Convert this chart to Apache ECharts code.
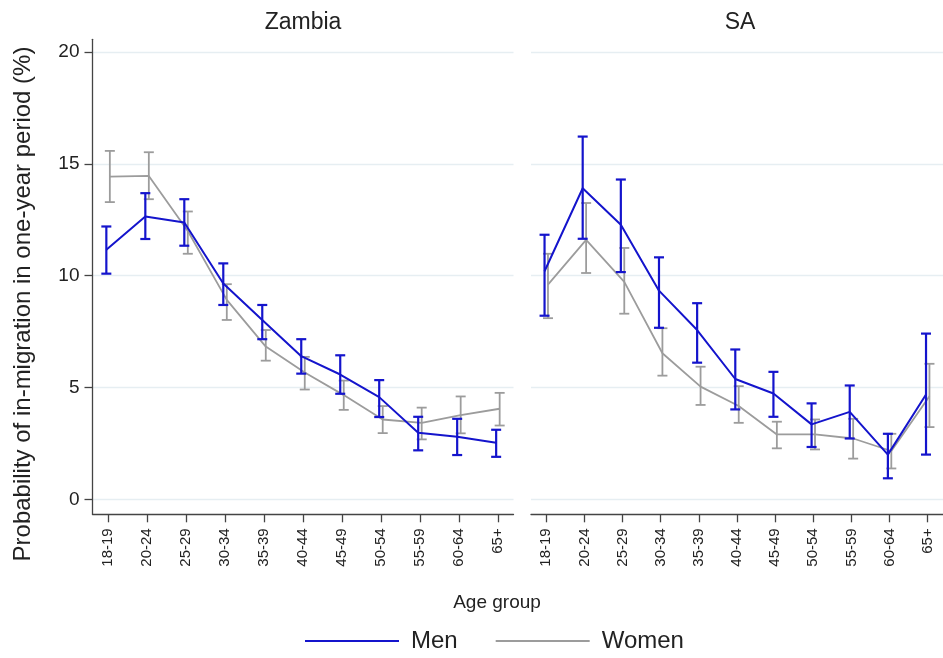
<!DOCTYPE html>
<html>
<head>
<meta charset="utf-8">
<script src="https://cdn.jsdelivr.net/npm/echarts@6/dist/echarts.min.js"></script>
<style>html,body{margin:0;padding:0;background:#fff}#c{width:943px;height:658px}</style>
</head>
<body>
<div id="c"></div>
<script>
const categories = ['18-19','20-24','25-29','30-34','35-39','40-44','45-49','50-54','55-59','60-64','65+'];
const yTicks = [0, 5, 10, 15, 20];

const zambiaMen      = [11.16, 12.65, 12.38, 9.65, 8.02, 6.40, 5.58, 4.57, 2.98, 2.80, 2.53];
const zambiaMenLow   = [10.09, 11.64, 11.34, 8.69, 7.16, 5.62, 4.72, 3.68, 2.19, 1.98, 1.90];
const zambiaMenHigh  = [12.20, 13.69, 13.42, 10.55, 8.69, 7.16, 6.44, 5.33, 3.69, 3.60, 3.11];

const zambiaWomen     = [14.43, 14.46, 12.00, 8.92, 6.83, 5.67, 4.66, 3.57, 3.42, 3.76, 4.05];
const zambiaWomenLow  = [13.29, 13.42, 10.98, 8.02, 6.20, 4.91, 4.00, 2.96, 2.68, 2.95, 3.30];
const zambiaWomenHigh = [15.58, 15.52, 12.87, 9.62, 7.57, 6.37, 5.31, 4.17, 4.10, 4.60, 4.76];

const saMen      = [10.20, 13.91, 12.28, 9.33, 7.57, 5.38, 4.73, 3.35, 3.91, 2.00, 4.69];
const saMenLow   = [8.21, 11.65, 10.16, 7.67, 6.11, 4.02, 3.69, 2.34, 2.72, 0.94, 2.00];
const saMenHigh  = [11.83, 16.22, 14.30, 10.82, 8.77, 6.70, 5.70, 4.29, 5.09, 2.93, 7.41];

const saWomen     = [9.60, 11.60, 9.72, 6.53, 5.04, 4.17, 2.90, 2.90, 2.72, 2.16, 4.61];
const saWomenLow  = [8.10, 10.12, 8.30, 5.53, 4.22, 3.42, 2.28, 2.23, 1.82, 1.38, 3.23];
const saWomenHigh = [10.98, 13.25, 11.24, 7.65, 5.93, 5.06, 3.47, 3.57, 3.60, 2.93, 6.06];

const BLUE = '#1414cc';
const GRAY = '#9c9c9c';
const FONT = '"Liberation Sans", Arial, sans-serif';
const catIdx = categories.map((_, i) => i);
const OFF = 0.045;

function linePts(vals, off) { return vals.map((v, i) => [i + off, v]); }
function barPts(lo, hi, off) { return lo.map((v, i) => [i + off, v, hi[i]]); }

function errRender(color, lw) {
  return function (params, api) {
    const x = api.value(0);
    const pLo = api.coord([x, api.value(1)]);
    const pHi = api.coord([x, api.value(2)]);
    const hw = 5;
    const st = { stroke: color, lineWidth: lw };
    return { type: 'group', children: [
      { type: 'line', shape: { x1: pHi[0], y1: pHi[1], x2: pLo[0], y2: pLo[1] }, style: st },
      { type: 'line', shape: { x1: pHi[0] - hw, y1: pHi[1], x2: pHi[0] + hw, y2: pHi[1] }, style: st },
      { type: 'line', shape: { x1: pLo[0] - hw, y1: pLo[1], x2: pLo[0] + hw, y2: pLo[1] }, style: st }
    ]};
  };
}

function xAxisDef(gi) {
  return {
    type: 'value', gridIndex: gi, min: -0.4, max: 10.4,
    axisLine: { show: true, onZero: false, lineStyle: { color: '#444', width: 1.3 } },
    axisTick: { show: true, length: 8, customValues: catIdx, lineStyle: { color: '#444', width: 1.3 } },
    axisLabel: { show: true, customValues: catIdx, rotate: 90, margin: 14,
      formatter: v => categories[Math.round(v)], fontSize: 15, color: '#222', fontFamily: FONT },
    splitLine: { show: false }
  };
}
function yAxisDef(gi, show) {
  return {
    type: 'value', gridIndex: gi, min: -0.67, max: 20.57,
    axisLine: { show: show, onZero: false, lineStyle: { color: '#444', width: 1.3 } },
    axisTick: { show: show, length: 8, customValues: yTicks, lineStyle: { color: '#444', width: 1.3 } },
    axisLabel: { show: show, customValues: yTicks, margin: 13, fontSize: 19, color: '#222', fontFamily: FONT },
    splitLine: { show: true, lineStyle: { color: '#e6eef2', width: 1.3 } }
  };
}

const series = [];
function addPanel(gi, men, menLo, menHi, women, womenLo, womenHi) {
  series.push({ type: 'custom', name: 'Women', xAxisIndex: gi, yAxisIndex: gi, clip: false,
    renderItem: errRender(GRAY, 1.8), encode: { x: 0, y: [1, 2] }, data: barPts(womenLo, womenHi, OFF), z: 2 });
  series.push({ type: 'line', name: 'Women', xAxisIndex: gi, yAxisIndex: gi, symbol: 'none',
    lineStyle: { color: GRAY, width: 1.8 }, itemStyle: { color: GRAY }, data: linePts(women, OFF), z: 2 });
  series.push({ type: 'custom', name: 'Men', xAxisIndex: gi, yAxisIndex: gi, clip: false,
    renderItem: errRender(BLUE, 2.2), encode: { x: 0, y: [1, 2] }, data: barPts(menLo, menHi, -OFF), z: 3 });
  series.push({ type: 'line', name: 'Men', xAxisIndex: gi, yAxisIndex: gi, symbol: 'none',
    lineStyle: { color: BLUE, width: 2 }, itemStyle: { color: BLUE }, data: linePts(men, -OFF), z: 3 });
}
addPanel(0, zambiaMen, zambiaMenLow, zambiaMenHigh, zambiaWomen, zambiaWomenLow, zambiaWomenHigh);
addPanel(1, saMen, saMenLow, saMenHigh, saWomen, saWomenLow, saWomenHigh);

const chart = echarts.init(document.getElementById('c'), null, { renderer: 'canvas' });
chart.setOption({
  animation: false,
  backgroundColor: '#fff',
  grid: [
    { left: 92.5, width: 421, top: 39.3, height: 475 },
    { left: 531, width: 421, top: 39.3, height: 475 }
  ],
  xAxis: [xAxisDef(0), xAxisDef(1)],
  yAxis: [yAxisDef(0, true), yAxisDef(1, false)],
  legend: {
    data: [
      { name: 'Men', icon: 'rect', itemStyle: { color: BLUE } },
      { name: 'Women', icon: 'rect', itemStyle: { color: GRAY } }
    ],
    left: 300, top: 624, itemWidth: 94, itemHeight: 2, itemGap: 38,
    textStyle: { fontSize: 24, color: '#222', fontFamily: FONT, padding: [0, 0, 0, 7] }
  },
  graphic: [
    { type: 'text', style: { text: 'Zambia', x: 303, y: 23, align: 'center', verticalAlign: 'middle', fill: '#222', font: '23px ' + FONT } },
    { type: 'text', style: { text: 'SA', x: 740, y: 23, align: 'center', verticalAlign: 'middle', fill: '#222', font: '23px ' + FONT } },
    { type: 'text', style: { text: 'Age group', x: 497, y: 603, align: 'center', verticalAlign: 'middle', fill: '#222', font: '19px ' + FONT } },
    { type: 'text', x: 23, y: 304, rotation: Math.PI / 2, style: { text: 'Probability of in-migration in one-year period (%)', x: 0, y: 0, align: 'center', verticalAlign: 'middle', fill: '#222', font: '24px ' + FONT } }
  ],
  series: series
});
</script>
</body>
</html>
